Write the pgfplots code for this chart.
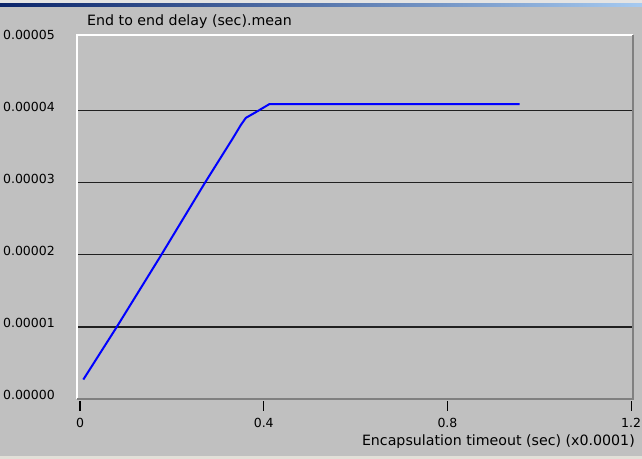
\documentclass[border=0pt]{standalone}
\usepackage{pgfplots}
\pgfplotsset{compat=1.18}
\usepackage{fontspec}
\setmainfont{DejaVu Sans}
\definecolor{winbg}{HTML}{C0C0C0}
\definecolor{winlight}{HTML}{E4E4E4}
\definecolor{winbottom}{HTML}{E2E0D8}
\definecolor{titleL}{HTML}{0A246A}
\definecolor{titleR}{HTML}{A6CAF0}
\definecolor{gridc}{HTML}{202020}
\definecolor{shadowc}{HTML}{808080}
\newcommand{\wf}{\fontsize{12.5bp}{14bp}\selectfont}
\newcommand{\lf}{\fontsize{14.2bp}{16bp}\selectfont}
\begin{document}
\begin{tikzpicture}[x=1bp,y=1bp]
\useasboundingbox (0,0) rectangle (642,459);
\fill[winbg] (0,0) rectangle (642,459);
\fill[winlight] (0,455) rectangle (642,459);
\shade[left color=titleL, right color=titleR] (0,452) rectangle (642,455.5);
\fill[winbottom] (0,0) rectangle (642,3);
\begin{axis}[
  name=ax,
  at={(77bp,60bp)}, anchor=south west,
  scale only axis, width=556bp, height=364bp,
  xmin=-0.0066, xmax=1.204,
  ymin=0, ymax=5.05e-5,
  axis line style={draw=none},
  xtick={0,0.4,0.8,1.2},
  xticklabels={0,0.4,0.8,1.2},
  ytick={0,1e-5,2e-5,3e-5,4e-5,5e-5},
  yticklabels={0.00000,0.00001,0.00002,0.00003,0.00004,0.00005},
  extra y ticks={1e-5,2e-5,3e-5,4e-5},
  extra y tick labels={},
  extra y tick style={grid=major, major tick length=0pt},
  grid style={gridc, line width=1.2bp},
  scaled y ticks=false,
  xtick pos=bottom, ytick pos=left,
  tick align=outside,
  xtick style={black, line width=1.2bp, yshift=-2bp},
  ytick style={draw=none},
  major tick length=10bp,
  /pgf/number format/assume math mode=true,
  every tick label/.append style={font=\wf, inner sep=0pt},
  yticklabel style={anchor=east, xshift=-12bp, yshift=4bp},
  xticklabel style={anchor=north, yshift=-9bp},
  xlabel={Encapsulation timeout (sec) (x0.0001)},
  xlabel style={font=\lf, at={(axis description cs:1,0)}, anchor=east, inner sep=0pt, xshift=2bp, yshift=-43bp},
  title={End to end delay (sec).mean},
  title style={font=\lf, at={(axis description cs:0,1)}, anchor=west, inner sep=0pt, xshift=10bp, yshift=7bp},
]
\addplot[blue, line width=2bp, mark=none] coordinates {
(0.0072,0.27e-5)
(0.080,1.0e-5)
(0.177,2.0e-5)
(0.272,3.0e-5)
(0.333,3.62e-5)
(0.350,3.80e-5)
(0.361,3.90e-5)
(0.383,3.98e-5)
(0.412,4.09e-5)
(0.957,4.09e-5)
};
\end{axis}
\draw[white, line width=1.3bp] (ax.south west) -- (ax.north west) -- (ax.north east);
\draw[shadowc, line width=1.5bp] (ax.north east) -- (ax.south east) -- (ax.south west);
\end{tikzpicture}
\end{document}
